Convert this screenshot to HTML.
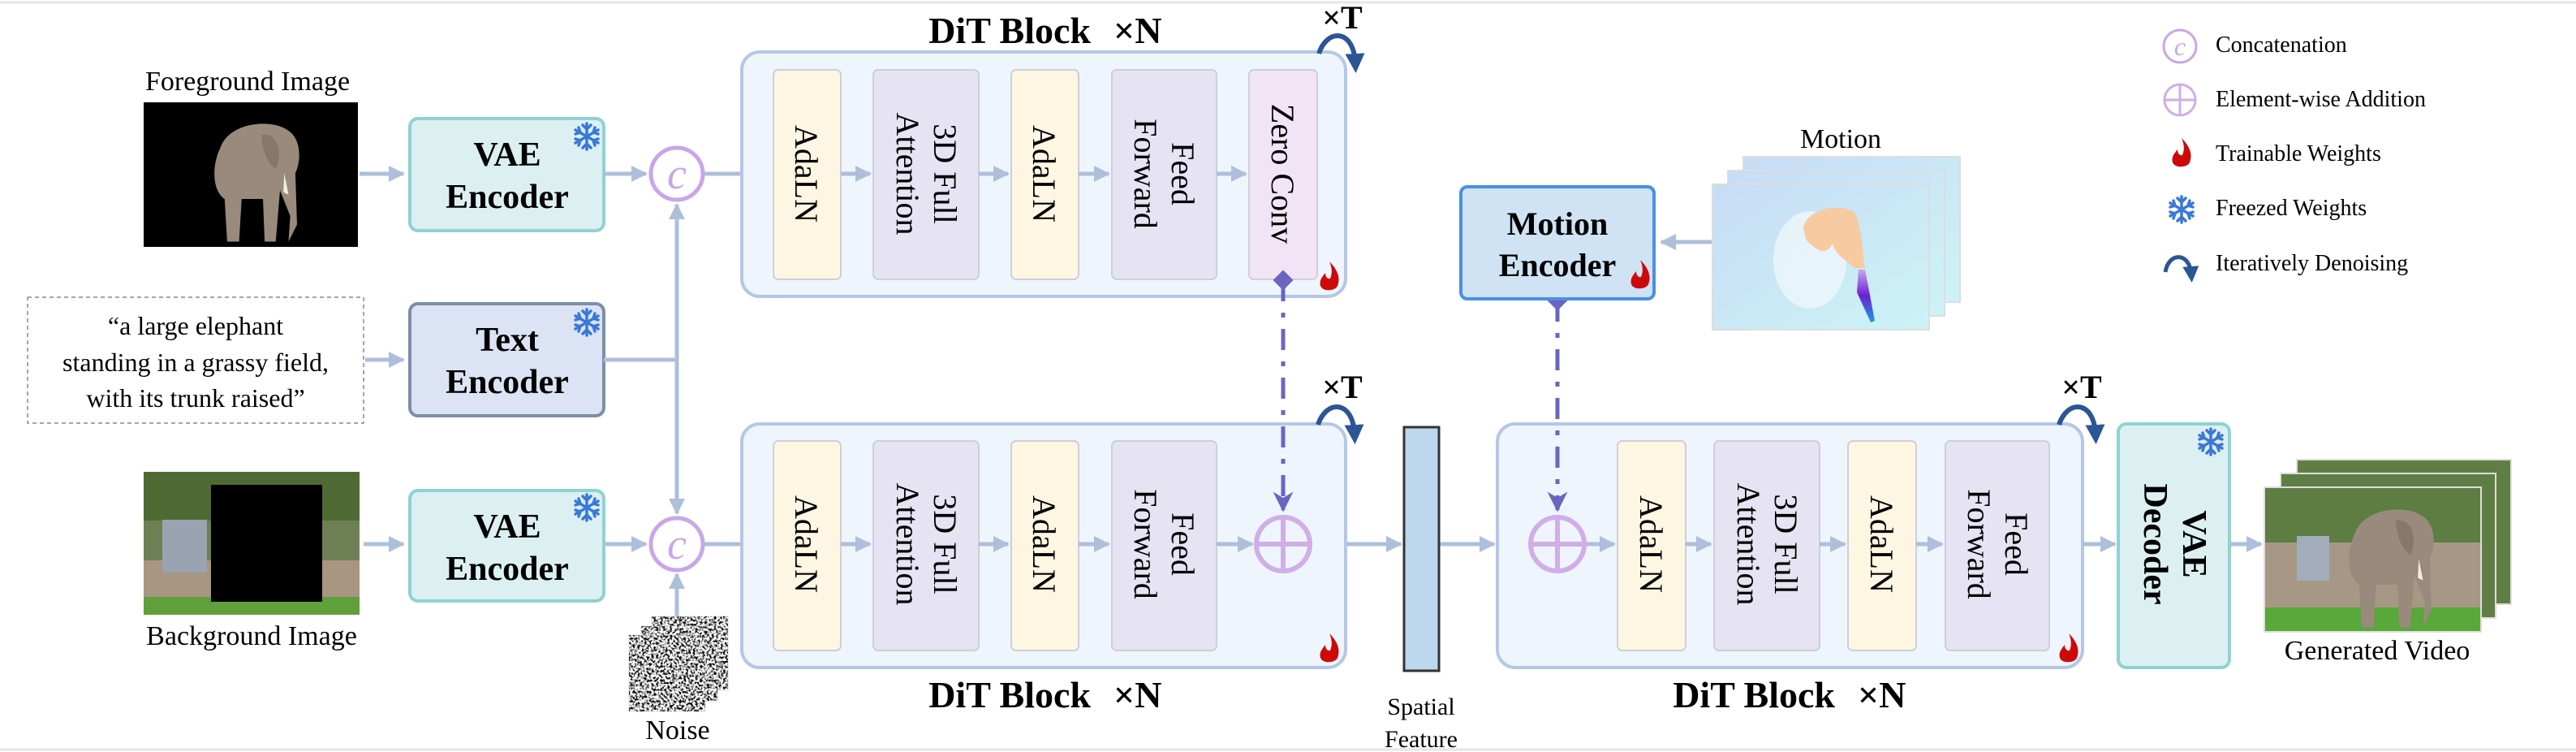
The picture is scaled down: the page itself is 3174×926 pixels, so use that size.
<!DOCTYPE html>
<html><head><meta charset="utf-8"><style>
html,body{margin:0;padding:0;background:#fff;}
svg{display:block;}
text{font-family:"Liberation Serif",serif;fill:#000;}
.b{font-weight:bold;}
</style></head><body>
<svg width="3174" height="926" viewBox="0 0 3174 926" xmlns="http://www.w3.org/2000/svg">
<defs>
<marker id="ah" viewBox="0 0 10 10" refX="9" refY="5" markerWidth="4" markerHeight="4" orient="auto" markerUnits="strokeWidth">
<path d="M0,0 L10,5 L0,10 z" fill="#aebfdb"/></marker>
<marker id="ap" viewBox="0 0 10 10" refX="9" refY="5" markerWidth="5" markerHeight="5" orient="auto" markerUnits="strokeWidth">
<path d="M0,0 L10,5 L0,10 L3,5 z" fill="#6a65c0"/></marker>
<marker id="dm" viewBox="0 0 10 10" refX="5" refY="5" markerWidth="5" markerHeight="5" orient="auto" markerUnits="strokeWidth">
<path d="M5,0 L10,5 L5,10 L0,5 z" fill="#6a65c0"/></marker>
<marker id="cu" viewBox="0 0 10 10" refX="5" refY="5" markerWidth="4" markerHeight="4" orient="auto" markerUnits="strokeWidth">
<path d="M0,0 L10,5 L0,10 z" fill="#2c5596"/></marker>
<filter id="nz" x="0" y="0" width="100%" height="100%">
<feTurbulence type="fractalNoise" baseFrequency="0.35" numOctaves="2" seed="3"/>
<feColorMatrix type="matrix" values="0 0 0 0 0  0 0 0 0 0  0 0 0 0 0  0 0 0 -4 2.3"/>
</filter>
<linearGradient id="mg" x1="0" y1="0" x2="1" y2="1"><stop offset="0" stop-color="#c7dcf6"/><stop offset="1" stop-color="#cdf3f5"/></linearGradient>
<linearGradient id="tr" x1="0" y1="0" x2="0" y2="1"><stop offset="0" stop-color="#c9a6e8"/><stop offset="0.5" stop-color="#6a1fd6"/><stop offset="1" stop-color="#1aa0e0"/></linearGradient>
<g id="fire"><path d="M0,-20 C10,-10 14,0 10,10 C8,16 -8,18 -11,10 C-13,3 -8,-2 -5,-6 C-5,-1 -2,2 1,1 C4,-6 3,-13 0,-20 z" fill="#cc0a0a"/></g>
<g id="snow" stroke="#3a78d8" stroke-width="3.5" stroke-linecap="round" fill="none">
<line x1="0" y1="-16" x2="0" y2="16"/><line x1="-14" y1="-8" x2="14" y2="8"/><line x1="-14" y1="8" x2="14" y2="-8"/>
<path d="M-5,-14 L0,-9 L5,-14 M-5,14 L0,9 L5,14 M-14,-3 L-8,-5 L-10,-11 M14,3 L8,5 L10,11 M-14,3 L-8,5 L-10,11 M14,-3 L8,-5 L10,-11"/>
</g>
<g id="elephant">
<path d="M30,40 C40,10 90,5 110,20 C125,30 125,55 118,70 L120,130 L110,150 L112,120 L100,90 L95,150 L82,150 L80,100 L55,100 L52,150 L38,150 L35,100 C20,90 20,60 30,40 z" fill="#9a8a7c"/>
<path d="M78,25 C95,20 105,45 95,65 C88,60 80,50 78,25 z" fill="#877769"/>
<path d="M105,70 L110,95 L104,92 z" fill="#f2eee0"/>
</g>
</defs>

<line x1="0" y1="3" x2="3174" y2="3" stroke="#e4e6ea" stroke-width="3"/>
<line x1="0" y1="923" x2="3174" y2="923" stroke="#e4e6ea" stroke-width="3"/>

<!-- Foreground -->
<text x="305" y="111" font-size="34" text-anchor="middle">Foreground Image</text>
<rect x="177" y="126" width="264" height="178" fill="#000"/>
<g transform="translate(240,140) scale(1.05)"><use href="#elephant"/></g>

<!-- text box -->
<rect x="34" y="366" width="414" height="155" fill="#fff" stroke="#888" stroke-width="1.5" stroke-dasharray="5,4"/>
<text x="241" y="412" font-size="32" text-anchor="middle">“a large elephant</text>
<text x="241" y="457" font-size="32" text-anchor="middle">standing in a grassy field,</text>
<text x="241" y="501" font-size="32" text-anchor="middle">with its trunk raised”</text>

<!-- Background -->
<rect x="177" y="581" width="266" height="176" fill="#6f7f55"/>
<rect x="177" y="581" width="266" height="60" fill="#4e6a32"/>
<rect x="177" y="690" width="266" height="45" fill="#a89682"/>
<rect x="177" y="735" width="266" height="22" fill="#5fa03a"/>
<rect x="200" y="640" width="55" height="65" fill="#9aa3b2"/>
<rect x="260" y="597" width="137" height="144" fill="#000"/>
<text x="310" y="794" font-size="34" text-anchor="middle">Background Image</text>

<!-- Encoders -->
<rect x="505" y="146" width="239" height="138" rx="10" fill="#dcf0f1" stroke="#8fd2d2" stroke-width="4"/>
<text class="b" x="625" y="204" font-size="42" text-anchor="middle">VAE</text>
<text class="b" x="625" y="256" font-size="42" text-anchor="middle">Encoder</text>
<use href="#snow" transform="translate(723,168)"/>

<rect x="505" y="374" width="239" height="138" rx="10" fill="#dce3f4" stroke="#7f8dab" stroke-width="4"/>
<text class="b" x="625" y="432" font-size="42" text-anchor="middle">Text</text>
<text class="b" x="625" y="484" font-size="42" text-anchor="middle">Encoder</text>
<use href="#snow" transform="translate(723,397)"/>

<rect x="505" y="604" width="239" height="136" rx="10" fill="#dcf0f1" stroke="#8fd2d2" stroke-width="4"/>
<text class="b" x="625" y="662" font-size="42" text-anchor="middle">VAE</text>
<text class="b" x="625" y="714" font-size="42" text-anchor="middle">Encoder</text>
<use href="#snow" transform="translate(723,625)"/>

<!-- arrows left -->
<g stroke="#aebfdb" stroke-width="5" fill="none">
<line x1="443" y1="214" x2="497" y2="214" marker-end="url(#ah)"/>
<line x1="450" y1="443" x2="497" y2="443" marker-end="url(#ah)"/>
<line x1="448" y1="670" x2="497" y2="670" marker-end="url(#ah)"/>
<line x1="744" y1="214" x2="796" y2="214" marker-end="url(#ah)"/>
<line x1="744" y1="670" x2="796" y2="670" marker-end="url(#ah)"/>
<line x1="744" y1="443" x2="834" y2="443"/>
<line x1="834" y1="443" x2="834" y2="252" marker-end="url(#ah)"/>
<line x1="834" y1="443" x2="834" y2="632" marker-end="url(#ah)"/>
<line x1="834" y1="759" x2="834" y2="707" marker-end="url(#ah)"/>
<line x1="867" y1="214" x2="948" y2="214" marker-end="url(#ah)"/>
<line x1="867" y1="670" x2="948" y2="670" marker-end="url(#ah)"/>
</g>

<!-- concat circles -->
<g>
<circle cx="834" cy="214" r="32" fill="#fff" stroke="#c9a6e8" stroke-width="5"/>
<text x="834" y="232" font-size="54" font-style="italic" text-anchor="middle" style="fill:#c9a6e8">c</text>
<circle cx="834" cy="670" r="32" fill="#fff" stroke="#c9a6e8" stroke-width="5"/>
<text x="834" y="688" font-size="54" font-style="italic" text-anchor="middle" style="fill:#c9a6e8">c</text>
</g>

<!-- noise -->
<g>
<rect x="803" y="759" width="94" height="91" fill="#fff" stroke="#ddd"/><rect x="803" y="759" width="94" height="91" filter="url(#nz)"/>
<rect x="790" y="771" width="94" height="92" fill="#fff" stroke="#ddd"/><rect x="790" y="771" width="94" height="92" filter="url(#nz)"/>
<rect x="775" y="782" width="94" height="94" fill="#fff" stroke="#ddd"/><rect x="775" y="782" width="94" height="94" filter="url(#nz)"/>
</g>
<text x="835" y="910" font-size="34" text-anchor="middle">Noise</text>

<!-- DiT blocks -->
<g stroke="#b5c7e6" stroke-width="4" fill="#eef5fd">
<rect x="914" y="64" width="744" height="301" rx="22"/>
<rect x="914" y="522" width="744" height="300" rx="22"/>
<rect x="1845" y="522" width="721" height="300" rx="22"/>
</g>
<text class="b" x="1344" y="53" font-size="46" text-anchor="end">DiT Block</text>
<text class="b" x="1372" y="53" font-size="46">×N</text>
<text class="b" x="1344" y="871" font-size="46" text-anchor="end">DiT Block</text>
<text class="b" x="1372" y="871" font-size="46">×N</text>
<text class="b" x="2261" y="871" font-size="46" text-anchor="end">DiT Block</text>
<text class="b" x="2289" y="871" font-size="46">×N</text>

<!-- inner blocks -->
<g stroke="#cfcfd6" stroke-width="2">
<rect x="953" y="86" width="83" height="258" rx="6" fill="#fdf6e3"/>
<rect x="1076" y="86" width="130" height="258" rx="6" fill="#e6e4f2"/>
<rect x="1246" y="86" width="83" height="258" rx="6" fill="#fdf6e3"/>
<rect x="1370" y="86" width="129" height="258" rx="6" fill="#e6e4f2"/>
<rect x="1539" y="86" width="84" height="258" rx="6" fill="#f1e4f4"/>
<rect x="953" y="543" width="83" height="258" rx="6" fill="#fdf6e3"/>
<rect x="1076" y="543" width="130" height="258" rx="6" fill="#e6e4f2"/>
<rect x="1246" y="543" width="83" height="258" rx="6" fill="#fdf6e3"/>
<rect x="1370" y="543" width="129" height="258" rx="6" fill="#e6e4f2"/>
<rect x="1993" y="543" width="84" height="258" rx="6" fill="#fdf6e3"/>
<rect x="2112" y="543" width="130" height="258" rx="6" fill="#e6e4f2"/>
<rect x="2277" y="543" width="84" height="258" rx="6" fill="#fdf6e3"/>
<rect x="2397" y="543" width="128" height="258" rx="6" fill="#e6e4f2"/>
</g>

<!-- rotated labels -->
<g font-size="40">
<text transform="translate(994,214) rotate(90)" text-anchor="middle" y="14">AdaLN</text>
<text transform="translate(1141,214) rotate(90)" text-anchor="middle"><tspan x="0" y="-10">3D Full</tspan><tspan x="0" y="36">Attention</tspan></text>
<text transform="translate(1287,214) rotate(90)" text-anchor="middle" y="14">AdaLN</text>
<text transform="translate(1434,214) rotate(90)" text-anchor="middle"><tspan x="0" y="-10">Feed</tspan><tspan x="0" y="36">Forward</tspan></text>
<text transform="translate(1581,214) rotate(90)" text-anchor="middle" y="14">Zero Conv</text>

<text transform="translate(994,670) rotate(90)" text-anchor="middle" y="14">AdaLN</text>
<text transform="translate(1141,670) rotate(90)" text-anchor="middle"><tspan x="0" y="-10">3D Full</tspan><tspan x="0" y="36">Attention</tspan></text>
<text transform="translate(1287,670) rotate(90)" text-anchor="middle" y="14">AdaLN</text>
<text transform="translate(1434,670) rotate(90)" text-anchor="middle"><tspan x="0" y="-10">Feed</tspan><tspan x="0" y="36">Forward</tspan></text>

<text transform="translate(2035,670) rotate(90)" text-anchor="middle" y="14">AdaLN</text>
<text transform="translate(2177,670) rotate(90)" text-anchor="middle"><tspan x="0" y="-10">3D Full</tspan><tspan x="0" y="36">Attention</tspan></text>
<text transform="translate(2319,670) rotate(90)" text-anchor="middle" y="14">AdaLN</text>
<text transform="translate(2461,670) rotate(90)" text-anchor="middle"><tspan x="0" y="-10">Feed</tspan><tspan x="0" y="36">Forward</tspan></text>
</g>

<!-- inner arrows -->
<g stroke="#aebfdb" stroke-width="5" fill="none">
<line x1="1036" y1="214" x2="1072" y2="214" marker-end="url(#ah)"/>
<line x1="1206" y1="214" x2="1242" y2="214" marker-end="url(#ah)"/>
<line x1="1329" y1="214" x2="1366" y2="214" marker-end="url(#ah)"/>
<line x1="1499" y1="214" x2="1535" y2="214" marker-end="url(#ah)"/>
<line x1="1036" y1="670" x2="1072" y2="670" marker-end="url(#ah)"/>
<line x1="1206" y1="670" x2="1242" y2="670" marker-end="url(#ah)"/>
<line x1="1329" y1="670" x2="1366" y2="670" marker-end="url(#ah)"/>
<line x1="1499" y1="670" x2="1543" y2="670" marker-end="url(#ah)"/>
<line x1="1659" y1="670" x2="1726" y2="670" marker-end="url(#ah)"/>
<line x1="1773" y1="670" x2="1841" y2="670" marker-end="url(#ah)"/>
<line x1="1954" y1="670" x2="1989" y2="670" marker-end="url(#ah)"/>
<line x1="2077" y1="670" x2="2108" y2="670" marker-end="url(#ah)"/>
<line x1="2242" y1="670" x2="2273" y2="670" marker-end="url(#ah)"/>
<line x1="2361" y1="670" x2="2393" y2="670" marker-end="url(#ah)"/>
<line x1="2566" y1="670" x2="2606" y2="670" marker-end="url(#ah)"/>
<line x1="2747" y1="670" x2="2786" y2="670" marker-end="url(#ah)"/>
<line x1="2110" y1="298" x2="2047" y2="298" marker-end="url(#ah)"/>
</g>

<!-- add circles -->
<g stroke="#d0aee6" stroke-width="6" fill="none">
<circle cx="1581" cy="670" r="33"/><line x1="1548" y1="670" x2="1614" y2="670"/><line x1="1581" y1="637" x2="1581" y2="703"/>
<circle cx="1919" cy="670" r="33"/><line x1="1886" y1="670" x2="1952" y2="670"/><line x1="1919" y1="637" x2="1919" y2="703"/>
</g>

<!-- dash-dot -->
<g stroke="#6a65c0" stroke-width="5" fill="none" stroke-dasharray="26,14,6,14">
<line x1="1581" y1="345" x2="1581" y2="628" marker-start="url(#dm)" marker-end="url(#ap)"/>
<line x1="1919" y1="370" x2="1919" y2="628" marker-start="url(#dm)" marker-end="url(#ap)"/>
</g>

<!-- spatial feature -->
<rect x="1730" y="526" width="43" height="300" fill="#bcd7ee" stroke="#333" stroke-width="3"/>
<text x="1751" y="880" font-size="30" text-anchor="middle">Spatial</text>
<text x="1751" y="920" font-size="30" text-anchor="middle">Feature</text>

<!-- motion encoder -->
<rect x="1800" y="230" width="238" height="138" rx="8" fill="#cfe3f5" stroke="#4a90e0" stroke-width="4"/>
<text class="b" x="1919" y="289" font-size="40" text-anchor="middle">Motion</text>
<text class="b" x="1919" y="340" font-size="40" text-anchor="middle">Encoder</text>

<!-- motion frames -->
<text x="2268" y="182" font-size="34" text-anchor="middle">Motion</text>
<rect x="2148" y="193" width="267" height="179" fill="url(#mg)" stroke="#ddd" stroke-width="2"/>
<rect x="2129" y="210" width="267" height="179" fill="url(#mg)" stroke="#ddd" stroke-width="2"/>
<rect x="2110" y="227" width="267" height="179" fill="url(#mg)" stroke="#ddd" stroke-width="2"/>
<ellipse cx="2230" cy="320" rx="45" ry="60" fill="#eef7fb" opacity="0.8"/>
<path d="M2222,280 C2228,255 2270,250 2285,262 C2295,280 2295,320 2298,330 L2285,330 C2275,320 2262,315 2258,300 C2250,315 2240,310 2225,295 z" fill="#f7caa0"/>
<path d="M2290,332 L2298,332 L2310,395 L2305,397 L2288,360 z" fill="url(#tr)"/>

<!-- VAE decoder -->
<rect x="2610" y="522" width="137" height="300" rx="10" fill="#dcf0f1" stroke="#8fd2d2" stroke-width="4"/>
<text class="b" font-size="42" text-anchor="middle" transform="translate(2678,670) rotate(90)"><tspan x="0" y="-12">VAE</tspan><tspan x="0" y="36">Decoder</tspan></text>
<use href="#snow" transform="translate(2724,544)"/>

<!-- generated video -->
<g>
<rect x="2830" y="566" width="264" height="178" fill="#5f7e45" stroke="#ddd" stroke-width="2"/>
<rect x="2810" y="583" width="265" height="178" fill="#5f7e45" stroke="#ddd" stroke-width="2"/>
<rect x="2790" y="600" width="267" height="178" fill="#5d7d42" stroke="#ddd" stroke-width="2"/>
<rect x="2791" y="668" width="265" height="80" fill="#a79886"/>
<rect x="2791" y="748" width="265" height="29" fill="#58a83a"/>
<rect x="2830" y="660" width="40" height="55" fill="#a2acbb"/>
<g transform="translate(2870,615) scale(1.05)"><use href="#elephant"/></g>
</g>
<text x="2929" y="812" font-size="34" text-anchor="middle">Generated Video</text>

<!-- fire icons -->
<use href="#fire" transform="translate(1638,342)"/>
<use href="#fire" transform="translate(1638,800)"/>
<use href="#fire" transform="translate(2549,800)"/>
<use href="#fire" transform="translate(2021,340)"/>

<!-- iterate arrows & xT -->
<g stroke="#2c5596" stroke-width="6" fill="none">
<path d="M1625,66 C1635,35 1668,35 1670,78" marker-end="url(#cu)"/>
<path d="M1624,523 C1634,492 1667,492 1669,535" marker-end="url(#cu)"/>
<path d="M2537,523 C2547,492 2580,492 2582,535" marker-end="url(#cu)"/>
</g>
<text class="b" x="1654" y="35" font-size="40" text-anchor="middle">×T</text>
<text class="b" x="1654" y="490" font-size="40" text-anchor="middle">×T</text>
<text class="b" x="2565" y="490" font-size="40" text-anchor="middle">×T</text>

<!-- legend -->
<circle cx="2686" cy="57" r="20" fill="#fff" stroke="#c9a6e8" stroke-width="3"/>
<text x="2686" y="68" font-size="32" font-style="italic" text-anchor="middle" style="fill:#c9a6e8">c</text>
<text x="2730" y="64" font-size="28">Concatenation</text>
<g stroke="#d0aee6" stroke-width="3" fill="none"><circle cx="2686" cy="123" r="19"/><line x1="2667" y1="123" x2="2705" y2="123"/><line x1="2686" y1="104" x2="2686" y2="142"/></g>
<text x="2730" y="131" font-size="28">Element-wise Addition</text>
<use href="#fire" transform="translate(2688,190)"/>
<text x="2730" y="198" font-size="28">Trainable Weights</text>
<use href="#snow" transform="translate(2688,258)"/>
<text x="2730" y="265" font-size="28">Freezed Weights</text>
<path d="M2668,335 C2672,310 2698,310 2700,338" stroke="#2c5596" stroke-width="5" fill="none" marker-end="url(#cu)"/>
<text x="2730" y="333" font-size="28">Iteratively Denoising</text>
</svg>
</body></html>
